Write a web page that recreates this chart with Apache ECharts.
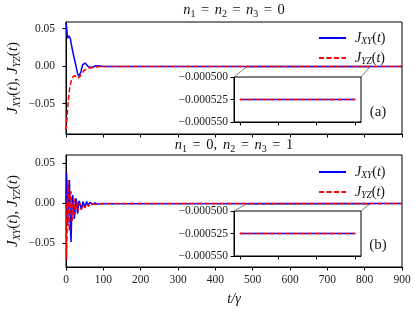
<!DOCTYPE html>
<html>
<head>
<meta charset="utf-8">
<script src="https://cdn.jsdelivr.net/npm/echarts@6/dist/echarts.min.js"></script>
<style>html,body{margin:0;padding:0;background:#fff}#c{width:415px;height:311px}</style>
</head>
<body>
<div id="c"></div>
<script>
// ---- data ----
// panel (a): n1 = n2 = n3 = 0
const tA_XY = [0,2,4,6,8,10,12,14,17,20,24,28,31,34,36,38,40,42,45,48,51,55,60,65,70,75,80,85,90,95,100,900];
const vA_XY = [0.058,0.050,0.037,0.036,0.040,0.041,0.036,0.030,0.022,0.015,0.006,-0.003,-0.010,-0.0135,-0.015,-0.013,-0.008,-0.003,0.002,0.0045,0.004,0.002,-0.001,-0.0025,-0.002,-0.0008,0.0003,0.0005,0.0001,-0.0004,-0.000525,-0.000525];
const tA_YZ = [0,2,4,6,8,10,13,16,19,22,25,28,31,34,37,40,44,48,52,57,64,70,77,85,95,105,900];
const vA_YZ = [-0.085,-0.074,-0.060,-0.047,-0.037,-0.029,-0.022,-0.017,-0.014,-0.0125,-0.013,-0.0145,-0.0165,-0.016,-0.0142,-0.012,-0.009,-0.006,-0.0045,-0.0035,-0.0027,-0.002,-0.0015,-0.001,-0.0007,-0.000525,-0.000525];
// panel (b): n1 = 0, n2 = n3 = 1
const tB_XY = [0,1.5,3,4.5,6,7.5,9,10.5,12,13.5,15,16.5,18,19.5,21,22.5,24,25.5,27,28.5,30,31.5,33,35,37,39,41,43,45,47,49,51,53,55,57,59,61,63,65,68,71,74,77,80,85,90,95,100,900];
const vB_XY = [0.0,0.038,0.012,-0.028,-0.005,0.020,0.029,0.005,-0.030,-0.049,-0.020,0.004,0.010,0.003,-0.012,-0.020,-0.008,0.003,0.006,0.0,-0.010,-0.013,-0.005,0.003,0.004,-0.003,-0.008,-0.005,0.002,0.003,-0.002,-0.005,-0.002,0.002,0.0015,-0.002,-0.003,-0.001,0.001,-0.0005,-0.002,-0.001,0.0002,-0.001,-0.0012,-0.0004,-0.0008,-0.000525,-0.000525];
const tB_YZ = [0,1.5,3,4.5,6,7.5,9,10.5,12,13.5,15,16.5,18,19.5,21,22.5,24,25.5,27,28.5,30,31.5,33,35,37,39,41,43,45,47,49,51,53,55,58,61,64,67,70,74,78,82,88,95,100,900];
const vB_YZ = [0.0,-0.071,-0.030,0.029,0.015,-0.020,-0.035,-0.010,0.012,0.015,-0.005,-0.022,-0.018,0.0,0.006,-0.002,-0.014,-0.015,-0.005,0.002,-0.001,-0.010,-0.011,-0.003,0.0,-0.002,-0.008,-0.007,-0.002,-0.001,-0.003,-0.006,-0.004,-0.001,-0.002,-0.004,-0.002,-0.001,-0.002,-0.0015,-0.0008,-0.0012,-0.0008,-0.0006,-0.000525,-0.000525];
// insets (same for both panels)
const tInset = [500, 800];
const vInset_XY = [-0.000525, -0.000525];
const vInset_YZ = [-0.000525, -0.000525];
// tick labels
const mainYTicks = [-0.05, 0, 0.05];
const insetYTicks = [-0.00055, -0.000525, -0.0005];
const insetXTicks = [500, 600, 700, 800];
const panelTitles = ['{i|n}{s|1}{e|=}{i|n}{s|2}{e|=}{i|n}{s|3}{e|=}{r|0}',
                     '{i|n}{s|1}{e|=}{r|0,}{g|}{i|n}{s|2}{e|=}{i|n}{s|3}{e|=}{r|1}'];
const panelTags = ['(a)', '(b)'];

const zip = (t, v) => t.map((x, i) => [x, v[i]]);
const FONT = 'Liberation Serif';
const BLUE = '#0000ff', RED = '#ff0000';
const TXT = '#111';
const rich = {
  i: {fontFamily: FONT, fontStyle: 'italic', fontWeight: 'normal', fontSize: 14.5, lineHeight: 17, color: TXT},
  r: {fontFamily: FONT, fontWeight: 'normal', fontSize: 14.5, lineHeight: 17, color: TXT},
  e: {fontFamily: FONT, fontWeight: 'normal', fontSize: 14.5, lineHeight: 17, color: TXT, padding: [0, 5.5, 0, 5.5]},
  g: {width: 6},
  s: {fontFamily: FONT, fontWeight: 'normal', fontSize: 10, lineHeight: 10, verticalAlign: 'bottom', color: TXT}
};
const richY = {
  i: {fontFamily: FONT, fontStyle: 'italic', fontWeight: 'normal', fontSize: 15, lineHeight: 18, color: TXT},
  r: {fontFamily: FONT, fontWeight: 'normal', fontSize: 15, lineHeight: 18, color: TXT},
  s: {fontFamily: FONT, fontStyle: 'italic', fontWeight: 'normal', fontSize: 10, lineHeight: 10, verticalAlign: 'bottom', color: TXT}
};
const richSmall = {
  i: {fontFamily: FONT, fontStyle: 'italic', fontSize: 14, lineHeight: 16, color: TXT},
  r: {fontFamily: FONT, fontSize: 14, lineHeight: 16, color: TXT},
  s: {fontFamily: FONT, fontStyle: 'italic', fontSize: 9.5, lineHeight: 9, verticalAlign: 'bottom', color: TXT},
  p: {width: 4}
};
const jxy = '{i|J}{s|XY}{r|(}{i|t}{r|)}';
const jyz = '{i|J}{s|YZ}{r|(}{i|t}{r|)}';

const grids = [
  {left: 66, top: 22, width: 336, height: 112},
  {left: 66, top: 155, width: 336, height: 112},
  {left: 234, top: 77, width: 127, height: 45},
  {left: 234, top: 211, width: 127, height: 45}
].map((g, k) => Object.assign(g, {show: true, borderColor: '#000', borderWidth: 1,
   backgroundColor: k >= 2 ? '#fff' : 'transparent', containLabel: false, outerBoundsMode: 'none'}));

const tickLbl = {fontFamily: FONT, fontSize: 11.5, color: '#222'};
function fmt2(v) { v = Number(v); return (v < 0 ? '\u2212' : '') + Math.abs(v).toFixed(2); }
function fmt6(v) { v = Number(v); return (v < 0 ? '\u2212' : '') + Math.abs(v).toFixed(6); }
function mainX(k) {
  return {type: 'value', gridIndex: k, min: 0, max: 900, interval: 100,
    axisLine: {show: true, onZero: false, lineStyle: {color: '#000', width: 1}},
    axisTick: {show: true, length: 3.5, lineStyle: {color: '#000'}},
    axisLabel: {show: k === 1, margin: 7, ...tickLbl},
    splitLine: {show: false},
    name: k === 1 ? 't/\u03b3' : '', nameLocation: 'middle', nameGap: 25,
    nameTextStyle: {fontFamily: FONT, fontStyle: 'italic', fontSize: 14, color: TXT}};
}
function mainY(k, mn, mx) {
  return {type: 'value', gridIndex: k, min: mn, max: mx,
    axisLine: {show: true, onZero: false, lineStyle: {color: '#000', width: 1}},
    axisTick: {show: true, length: 3.5, customValues: mainYTicks, lineStyle: {color: '#000'}},
    axisLabel: {margin: 11, customValues: mainYTicks, formatter: fmt2, ...tickLbl},
    splitLine: {show: false},
    name: jxy + '{r|, }' + jyz, nameLocation: 'middle', nameGap: 44, nameRotate: 90,
    nameMoveOverlap: false,
    nameTextStyle: {rich: richY}};
}
function insetX(k) {
  return {type: 'value', gridIndex: k, min: 485, max: 815,
    axisLine: {show: true, onZero: false, lineStyle: {color: '#000', width: 1}},
    axisTick: {show: true, length: 3.5, customValues: insetXTicks, lineStyle: {color: '#000'}},
    axisLabel: {show: false, customValues: insetXTicks},
    splitLine: {show: false}};
}
function insetY(k) {
  return {type: 'value', gridIndex: k, min: -0.00055, max: -0.0005,
    axisLine: {show: true, onZero: false, lineStyle: {color: '#000', width: 1}},
    axisTick: {show: true, length: 3.5, customValues: insetYTicks, lineStyle: {color: '#000'}},
    axisLabel: {margin: 6, customValues: insetYTicks, formatter: fmt6, ...tickLbl},
    splitLine: {show: false}};
}

function line(name, k, data, color, dashed) {
  return {name: name, type: 'line', xAxisIndex: k, yAxisIndex: k, data: data,
    symbol: 'none', showSymbol: false, animation: false, z: dashed ? 4 : 3,
    lineStyle: {color: color, width: 1.5, type: dashed ? [5, 2.5] : 'solid'},
    itemStyle: {color: color}};
}

const legendCommon = {orient: 'vertical', itemWidth: 27, itemHeight: 12, itemGap: 5, padding: 0,
  data: ['JXY', 'JYZ'], selectedMode: false,
  itemStyle: {opacity: 0},
  formatter: n => '{p|}' + (n === 'JXY' ? jxy : jyz),
  textStyle: {rich: richSmall}};

const option = {
  animation: false,
  backgroundColor: '#fff',
  title: panelTitles.map((t, k) => ({text: t, left: 234, textAlign: 'center', top: k === 0 ? 2 : 136,
    textStyle: {rich: rich, fontWeight: 'normal'}, padding: 0})),
  legend: [Object.assign({left: 318, top: 31}, legendCommon),
           Object.assign({left: 318, top: 165}, legendCommon)],
  grid: grids,
  xAxis: [mainX(0), mainX(1), insetX(2), insetX(3)],
  yAxis: [mainY(0, -0.0907, 0.0587), mainY(1, -0.0803, 0.0605), insetY(2), insetY(3)],
  series: [
    line('JXY', 0, zip(tA_XY, vA_XY), BLUE, false),
    line('JYZ', 0, zip(tA_YZ, vA_YZ), RED, true),
    line('JXY', 1, zip(tB_XY, vB_XY), BLUE, false),
    line('JYZ', 1, zip(tB_YZ, vB_YZ), RED, true),
    line('JXY', 2, zip(tInset, vInset_XY), BLUE, false),
    line('JYZ', 2, zip(tInset, vInset_YZ), RED, true),
    line('JXY', 3, zip(tInset, vInset_XY), BLUE, false),
    line('JYZ', 3, zip(tInset, vInset_YZ), RED, true)
  ]
};
const chart = echarts.init(document.getElementById('c'), null, {renderer: 'canvas'});
chart.setOption(option);

// mark_inset connectors + panel tags
const gfx = [];
[[0, 2], [1, 3]].forEach(([m, ins], k) => {
  const rx0 = 485, rx1 = 815, ry0 = -0.00055, ry1 = -0.0005;
  const a0 = chart.convertToPixel({xAxisIndex: m, yAxisIndex: m}, [rx0, ry1]);
  const a1 = chart.convertToPixel({xAxisIndex: m, yAxisIndex: m}, [rx1, ry0]);
  const b0 = chart.convertToPixel({xAxisIndex: ins, yAxisIndex: ins}, [rx0, ry1]);
  const b1 = chart.convertToPixel({xAxisIndex: ins, yAxisIndex: ins}, [rx1, ry1]);
  gfx.push({type: 'rect', shape: {x: a0[0], y: a0[1], width: a1[0] - a0[0], height: Math.max(0.5, a1[1] - a0[1])},
    style: {fill: 'none', stroke: '#808080', lineWidth: 1}, z: 1});
  gfx.push({type: 'line', shape: {x1: a0[0], y1: a1[1], x2: b0[0], y2: b0[1]}, style: {stroke: '#808080', lineWidth: 1}, z: 1});
  gfx.push({type: 'line', shape: {x1: a1[0], y1: a1[1], x2: b1[0], y2: b1[1]}, style: {stroke: '#808080', lineWidth: 1}, z: 1});
  const g = grids[m];
  gfx.push({type: 'text', x: 378, y: g.top + g.height - 22, z: 10,
    style: {text: panelTags[k], fontFamily: FONT, fontSize: 15, fill: '#222', align: 'center', verticalAlign: 'middle'}});
});
chart.setOption({graphic: gfx});
</script>
</body>
</html>
